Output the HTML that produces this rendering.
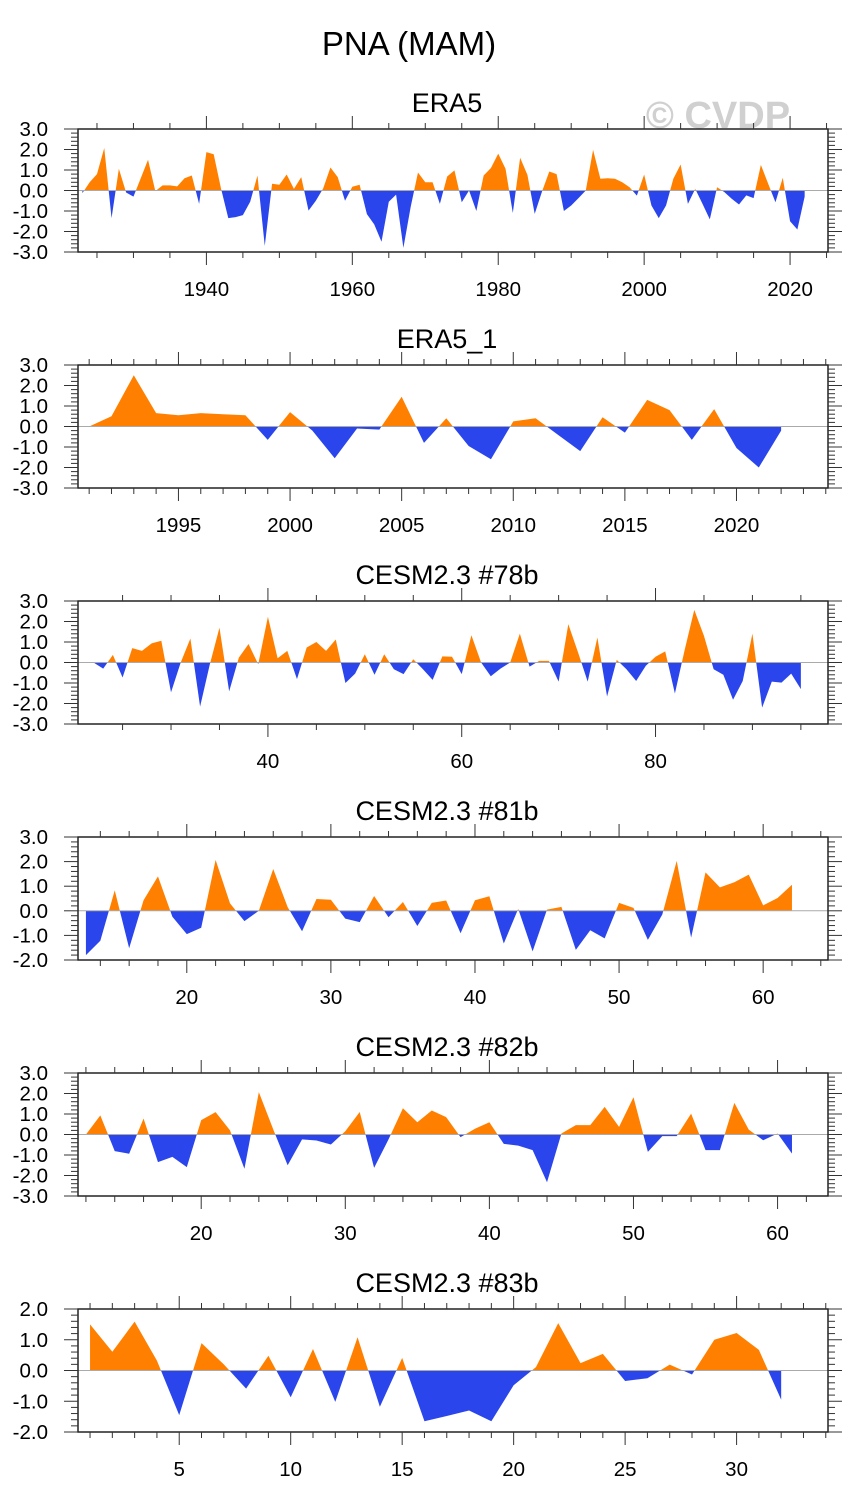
<!DOCTYPE html>
<html><head><meta charset="utf-8"><style>
html,body{margin:0;padding:0;background:#fff;}
svg{display:block;font-family:"Liberation Sans",Arial,sans-serif;}
</style></head><body>
<svg id="chart" width="845" height="1506" viewBox="0 0 845 1506">
<text x="409" y="55" font-size="33" text-anchor="middle" fill="#000">PNA (MAM)</text>
<text x="718" y="128" font-size="38" font-weight="bold" text-anchor="middle" fill="#d0d0d0">© CVDP</text>
</svg>
<script>
const era5Years = [];
for (let y = 1923; y <= 2022; y++) era5Years.push(y);
const era5Values = [-0.13,0.4,0.8,2.07,-1.35,1.06,-0.1,-0.3,0.6,1.5,-0.03,0.25,0.25,0.2,0.6,0.73,-0.65,1.87,1.77,0.1,-1.35,-1.3,-1.2,-0.55,0.73,-2.7,0.33,0.28,0.78,0.08,0.65,-0.98,-0.5,0.1,1.12,0.65,-0.5,0.18,0.28,-1.15,-1.65,-2.5,-0.55,-0.2,-2.8,-0.8,0.88,0.4,0.4,-0.65,0.68,0.98,-0.57,0.0,-1.0,0.73,1.1,1.8,1.06,-1.1,1.6,0.76,-1.14,-0.05,0.93,0.8,-1.0,-0.73,-0.37,0.0,1.98,0.57,0.6,0.57,0.4,0.16,-0.25,0.78,-0.73,-1.35,-0.73,0.57,1.27,-0.65,0.08,-0.65,-1.41,0.16,-0.08,-0.4,-0.68,-0.24,-0.37,1.25,0.33,-0.57,0.62,-1.5,-1.9,-0.3];
const era5_1Years = [];
for (let y = 1991; y <= 2022; y++) era5_1Years.push(y);
const era5_1Values = [0.0,0.5,2.5,0.65,0.55,0.65,0.6,0.55,-0.65,0.7,-0.2,-1.55,-0.1,-0.15,1.45,-0.8,0.4,-0.95,-1.6,0.25,0.4,-0.4,-1.2,0.45,-0.3,1.3,0.8,-0.65,0.85,-1.05,-2.0,-0.2];
const cesm78Years = [];
for (let y = 22; y <= 95; y++) cesm78Years.push(y);
const cesm78Values = [0,-0.3,0.37,-0.73,0.7,0.57,0.93,1.06,-1.46,0.0,1.17,-2.15,-0.1,1.7,-1.41,0.24,0.9,-0.08,2.23,0.21,0.57,-0.81,0.73,1.0,0.57,1.12,-1.0,-0.54,0.4,-0.6,0.4,-0.33,-0.57,0.16,-0.33,-0.85,0.3,0.28,-0.57,1.33,0.0,-0.67,-0.3,0.0,1.41,-0.2,0.08,0.08,-0.93,1.87,0.5,-0.93,1.22,-1.66,0.13,-0.33,-0.9,-0.16,0.28,0.54,-1.51,0.6,2.57,1.3,-0.33,-0.6,-1.82,-0.9,1.41,-2.2,-0.93,-0.98,-0.54,-1.3];
const cesm81Years = [];
for (let y = 13; y <= 62; y++) cesm81Years.push(y);
const cesm81Values = [-1.8,-1.22,0.83,-1.52,0.43,1.4,-0.24,-0.95,-0.69,2.07,0.3,-0.42,0.0,1.7,0.15,-0.83,0.48,0.45,-0.32,-0.46,0.6,-0.26,0.36,-0.62,0.32,0.42,-0.91,0.43,0.59,-1.33,0.08,-1.65,0.05,0.16,-1.59,-0.79,-1.12,0.32,0.12,-1.18,-0.15,2.03,-1.09,1.56,0.95,1.16,1.47,0.22,0.52,1.06];
const cesm82Years = [];
for (let y = 12; y <= 61; y++) cesm82Years.push(y);
const cesm82Values = [0.0,0.93,-0.81,-0.94,0.78,-1.35,-1.09,-1.59,0.7,1.09,0.2,-1.67,2.07,0.25,-1.5,-0.24,-0.29,-0.49,0.16,1.1,-1.63,-0.24,1.28,0.6,1.17,0.85,-0.13,0.28,0.6,-0.46,-0.54,-0.76,-2.33,0.05,0.46,0.46,1.35,0.37,1.82,-0.85,-0.08,-0.08,1.02,-0.76,-0.76,1.54,0.24,-0.28,0.05,-0.93];
const cesm83Years = [];
for (let y = 1; y <= 32; y++) cesm83Years.push(y);
const cesm83Values = [1.5,0.61,1.59,0.32,-1.45,0.89,0.2,-0.59,0.48,-0.87,0.7,-1.02,1.08,-1.18,0.41,-1.65,-1.48,-1.3,-1.65,-0.48,0.11,1.54,0.24,0.54,-0.34,-0.25,0.19,-0.13,1.0,1.22,0.67,-0.95];

const p1XTicks = [1940,1960,1980,2000,2020];
const p2XTicks = [1995,2000,2005,2010,2015,2020];
const p3XTicks = [40,60,80];
const p4XTicks = [20,30,40,50,60];
const p5XTicks = [20,30,40,50,60];
const p6XTicks = [5,10,15,20,25,30];
const yTicks3 = [3,2,1,0,-1,-2,-3];
const yTicks32 = [3,2,1,0,-1,-2];
const yTicks2 = [2,1,0,-1,-2];

const NS = 'http://www.w3.org/2000/svg';
const svg = document.getElementById('chart');
function mk(tag, attrs, parent) {
  const e = document.createElementNS(NS, tag);
  for (const k in attrs) e.setAttribute(k, attrs[k]);
  (parent || svg).appendChild(e);
  return e;
}
const X0 = 78, X1 = 828;

function panel(cfg, idx) {
  const g = mk('g', {});
  
  
  const top = cfg.top, bot = cfg.bot;
  const xs = v => X0 + (v - cfg.xmin) / (cfg.xmax - cfg.xmin) * (X1 - X0);
  const ys = v => bot - (v - cfg.ymin) / (cfg.ymax - cfg.ymin) * (bot - top);
  const t = mk('text', {x: 447, y: top - 17, 'font-size': 27, 'text-anchor': 'middle', fill: '#000'}, g);
  t.textContent = cfg.title;
  
  
  const z = ys(0);
  const defs = mk('defs', {}, g);
  const c1 = mk('clipPath', {id: 'up' + idx}, defs);
  mk('rect', {x: X0, y: top, width: X1 - X0, height: z - top}, c1);
  const c2 = mk('clipPath', {id: 'dn' + idx}, defs);
  mk('rect', {x: X0, y: z, width: X1 - X0, height: bot - z}, c2);
  let pts = xs(cfg.xv[0]) + ',' + z + ' ';
  for (let i = 0; i < cfg.xv.length; i++) pts += xs(cfg.xv[i]).toFixed(2) + ',' + ys(cfg.yv[i]).toFixed(2) + ' ';
  pts += xs(cfg.xv[cfg.xv.length - 1]) + ',' + z;
  const pos = mk('polygon', {points: pts, fill: '#ff8000', 'clip-path': 'url(#up' + idx + ')'}, g);
  
  
  const neg = mk('polygon', {points: pts, fill: '#2a45eb', 'clip-path': 'url(#dn' + idx + ')'}, g);
  
  
  const zl = mk('line', {x1: X0, x2: X1, y1: z, y2: z, stroke: '#aaa', 'stroke-width': 1}, g);
  
  
  const box = mk('rect', {x: X0, y: top, width: X1 - X0, height: bot - top, fill: 'none', stroke: '#222', 'stroke-width': 1.5}, g);
  
  
  for (let v = cfg.ymin; v <= cfg.ymax + 1e-6; v += 0.2) {
    const y = ys(v);
    const major = Math.abs(v - Math.round(v)) < 1e-6;
    const L = major ? 14 : 7;
    mk('line', {x1: X0 - L, x2: X0, y1: y, y2: y, stroke: '#333', 'stroke-width': 1}, g);
    mk('line', {x1: X1, x2: X1 + L, y1: y, y2: y, stroke: '#333', 'stroke-width': 1}, g);
  }
  cfg.yt.forEach(v => {
    const tx = mk('text', {x: 48, y: ys(v) + 7, 'font-size': 20.5, 'text-anchor': 'end', fill: '#000'}, g);
    tx.textContent = v.toFixed(1);
    
    
  });
  const start = Math.ceil(cfg.xmin / cfg.minor) * cfg.minor;
  for (let v = start; v <= cfg.xmax; v += cfg.minor) {
    const x = xs(v);
    const major = cfg.xt.indexOf(v) >= 0;
    const L = major ? 13 : 6;
    mk('line', {x1: x, x2: x, y1: bot, y2: bot + L, stroke: '#333', 'stroke-width': 1}, g);
    mk('line', {x1: x, x2: x, y1: top - L, y2: top, stroke: '#333', 'stroke-width': 1}, g);
  }
  cfg.xt.forEach(v => {
    const tx = mk('text', {x: xs(v), y: bot + 44, 'font-size': 20.5, 'text-anchor': 'middle', fill: '#000'}, g);
    tx.textContent = String(v);
    
    
  });
}

panel({slug:'era5', title:'ERA5', top:129, bot:252, xmin:1922.4, xmax:2025.2, ymin:-3, ymax:3, xv:era5Years, yv:era5Values, xt:p1XTicks, minor:5, yt:yTicks3}, 1);
panel({slug:'era5-1', title:'ERA5_1', top:365, bot:488, xmin:1990.5, xmax:2024.1, ymin:-3, ymax:3, xv:era5_1Years, yv:era5_1Values, xt:p2XTicks, minor:1, yt:yTicks3}, 2);
panel({slug:'cesm-78b', title:'CESM2.3 #78b', top:601, bot:724, xmin:20.4, xmax:97.8, ymin:-3, ymax:3, xv:cesm78Years, yv:cesm78Values, xt:p3XTicks, minor:5, yt:yTicks3}, 3);
panel({slug:'cesm-81b', title:'CESM2.3 #81b', top:837, bot:960, xmin:12.45, xmax:64.5, ymin:-2, ymax:3, xv:cesm81Years, yv:cesm81Values, xt:p4XTicks, minor:2, yt:yTicks32}, 4);
panel({slug:'cesm-82b', title:'CESM2.3 #82b', top:1073, bot:1196, xmin:11.45, xmax:63.5, ymin:-3, ymax:3, xv:cesm82Years, yv:cesm82Values, xt:p5XTicks, minor:2, yt:yTicks3}, 5);
panel({slug:'cesm-83b', title:'CESM2.3 #83b', top:1309, bot:1432, xmin:0.46, xmax:34.1, ymin:-2, ymax:2, xv:cesm83Years, yv:cesm83Values, xt:p6XTicks, minor:1, yt:yTicks2}, 6);
</script>
</body></html>
